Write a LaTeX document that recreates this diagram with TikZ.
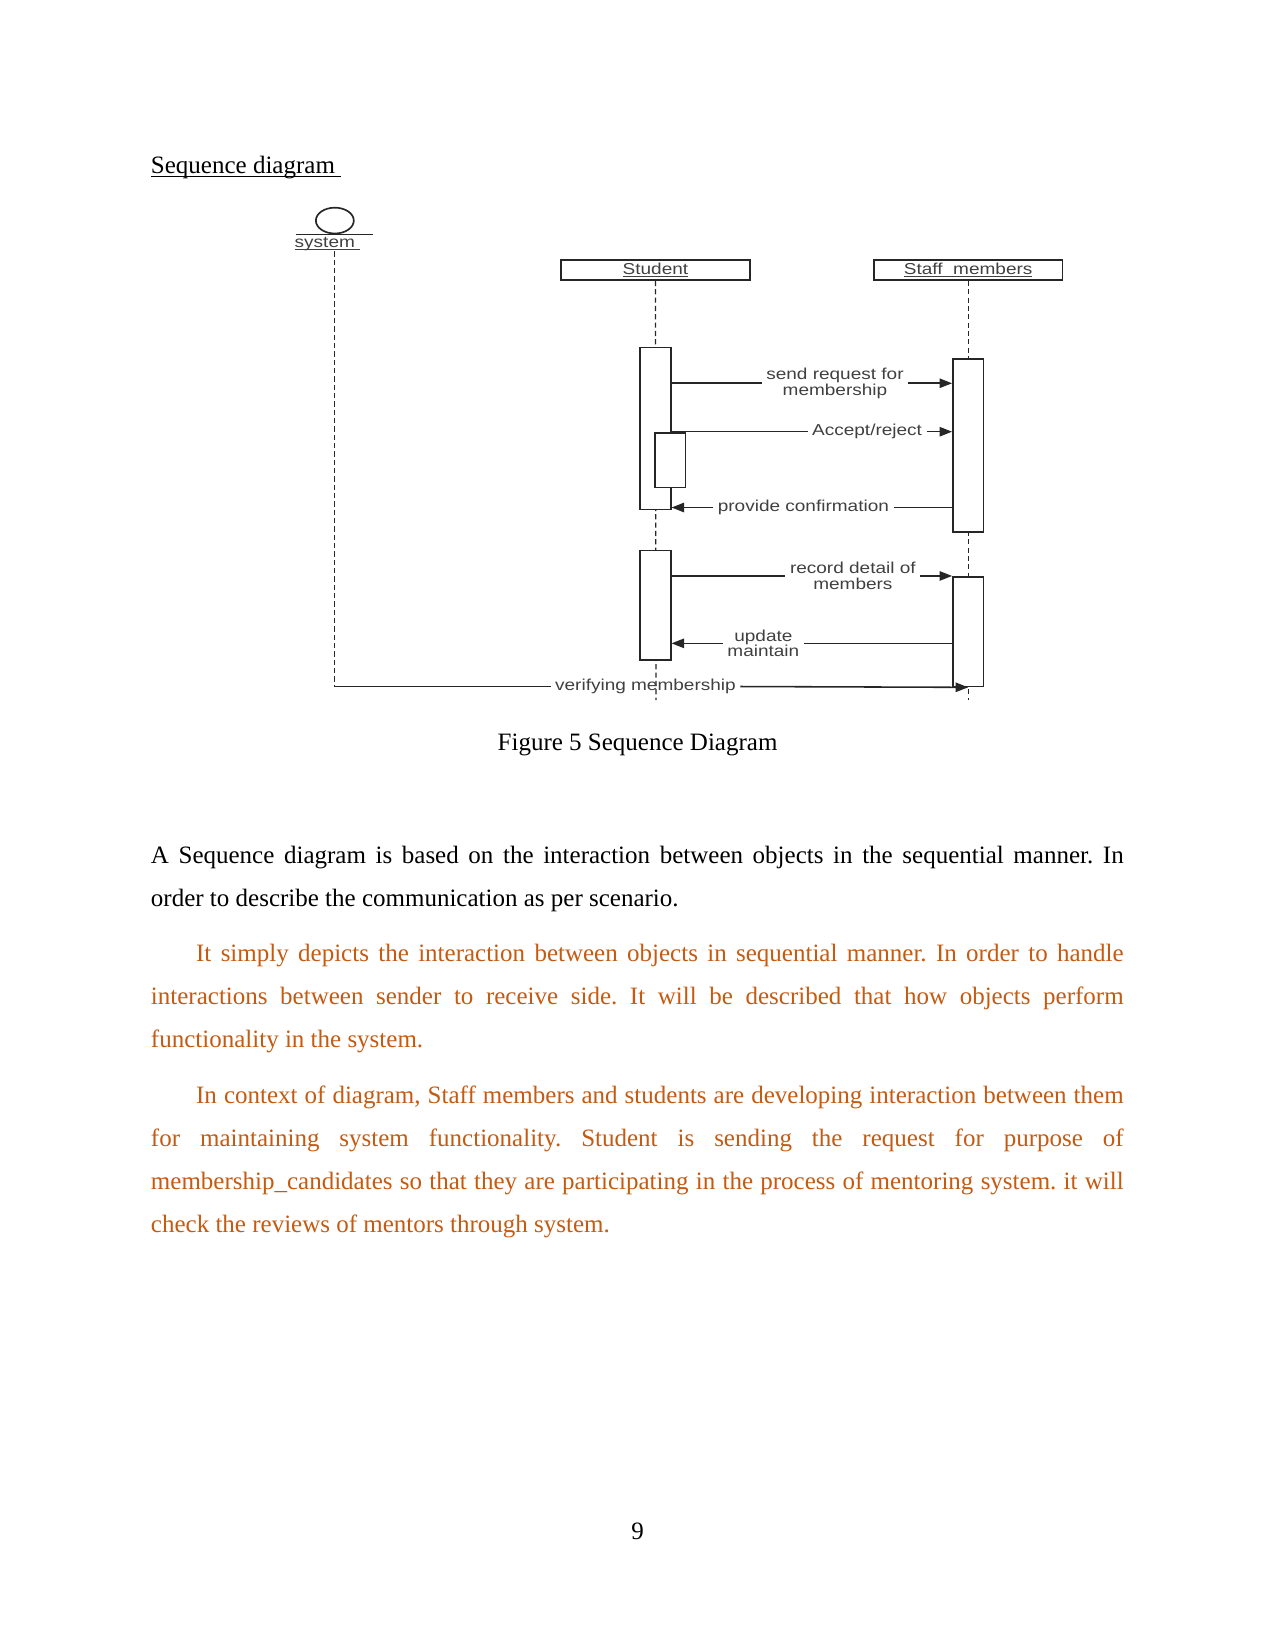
\documentclass[tikz,border=0pt]{standalone}
\usepackage{fontspec}
\setmainfont{Liberation Serif}
\newfontfamily\diafont[FakeStretch=1.2]{Liberation Sans}
\usetikzlibrary{arrows.meta,positioning,shapes.geometric}
\definecolor{accent}{HTML}{C55A11}
\definecolor{inkgray}{HTML}{404040}
\newcommand{\undl}[2][-1.4pt]{\setbox0\hbox{#2}\rlap{\rule[#1]{\wd0}{0.5pt}}\box0}
\frenchspacing

\begin{document}
\begin{tikzpicture}[
  x=0.5054pt,y=-0.5054pt,
  page/.style={inner sep=0pt, font=\fontsize{12}{14}\selectfont},
  body/.style={anchor=base west, inner sep=0pt, text width=6.46in, align=justify, font=\fontsize{12}{20.6}\selectfont},
  head/.style={draw=black!85, line width=0.75pt, minimum width=90.5pt, minimum height=9.6pt, inner sep=0pt, font=\diafont\fontsize{7.6}{8}\selectfont, text=inkgray},
  act/.style={draw=black!85, line width=0.75pt, fill=white, minimum width=14.7pt, inner sep=0pt},
  msg/.style={inner sep=2pt, align=center, font=\diafont\fontsize{7.6}{7.4}\selectfont, text=inkgray},
  life/.style={draw=black!85, dash pattern=on 2.5pt off 1.5pt, line width=0.6pt},
  wire/.style={draw=black!85, line width=0.75pt},
  arr/.style={wire, -{Triangle[length=6pt,width=4.5pt]}}
]
\useasboundingbox (0,0) rectangle (1211,1568);

% heading
\node[page, anchor=base west] (title) at (143,165) {\undl{Sequence diagram\ }};

% actor and heads
\node[draw=black!85, line width=0.8pt, ellipse, minimum width=18.2pt, minimum height=12.4pt, inner sep=0pt] (sys) at (318,209.5) {};
\draw[wire] ([xshift=-18.7pt]sys.south) -- ([xshift=18.2pt]sys.south);
\node[msg, inner sep=0pt] (syslab) at (311,232) {\undl[-1pt]{system\ }};
\node[head] (stu) at (622.5,256.5) {\undl[-1pt]{Student}};
\node[head] (stf) at (919.5,256.5) {\undl[-1pt]{Staff\ \ members}};

% lifelines
\coordinate (sysend) at (318,652);
\coordinate (stuend) at (623,665);
\coordinate (stfend) at (919.5,665);
\draw[life] (sysend |- syslab.south) -- (sysend);
\foreach \a/\b in {stu/stuend,stf/stfend}{\draw[life] (\a) -- (\b);}

% activations
\node[act, minimum height=77.8pt] (stuA) at (622.5,407) {};
\node[act, minimum height=26.3pt] (stuN) at (636.5,437) {};
\node[act, minimum height=82.9pt] (stfA) at (919.5,423) {};
\node[act, minimum height=52.6pt] (stuB) at (622.5,575) {};
\node[act, minimum height=52.6pt] (stfB) at (919.5,600) {};

% messages
\node[msg] (m1) at (793,364) {send request for\\membership};
\draw[wire] (stuA.east |- m1) -- (m1.west);
\draw[arr] (m1.east) -- (stfA.west |- m1);
\node[msg] (m2) at (823.5,410) {Accept/reject};
\draw[wire] (stuA.east |- m2) -- (m2.west);
\draw[arr] (m2.east) -- (stfA.west |- m2);
\node[msg] (m3) at (763,482) {provide confirmation};
\draw[wire] (stfA.west |- m3) -- (m3.east);
\draw[arr] (m3.west) -- (stuA.east |- m3);
\node[msg] (m4) at (810,547) {record detail of\\members};
\draw[wire] (stuB.east |- m4) -- (m4.west);
\draw[arr] (m4.east) -- (stfB.west |- m4);
\node[msg] (m5) at (725,611) {update\\maintain};
\draw[wire] (stfB.west |- m5) -- (m5.east);
\draw[arr] (m5.west) -- (stuB.east |- m5);
\node[msg] (m6) at (613,652) {verifying membership};
\draw[wire] (sysend) -- (m6.west);
\draw[arr] (m6.east) -- (stfB.south);

% caption and text
\node[page, anchor=base] (cap) at (605.5,713) {Figure 5 Sequence Diagram};
\node[body] (p1) at (143,820) {A Sequence diagram is based on the interaction between objects in the sequential manner. In\linebreak order to describe the communication as per scenario.};
\node[body, text=accent] (p2) at (143,913) {\hspace*{0.3in}It simply depicts the interaction between objects in sequential manner. In order to handle\linebreak interactions between sender to receive side. It will be described that how objects perform\linebreak functionality in the system.};
\node[body, text=accent] (p3) at (143,1048) {\hspace*{0.3in}In context of diagram, Staff members and students are developing interaction between them\linebreak for maintaining system functionality. Student is sending the request for purpose of\linebreak membership\_candidates so that they are participating in the process of mentoring system. it will\linebreak check the reviews of mentors through system.};
\node[page, anchor=base] (pg) at (605.5,1462) {9};
\end{tikzpicture}
\end{document}
